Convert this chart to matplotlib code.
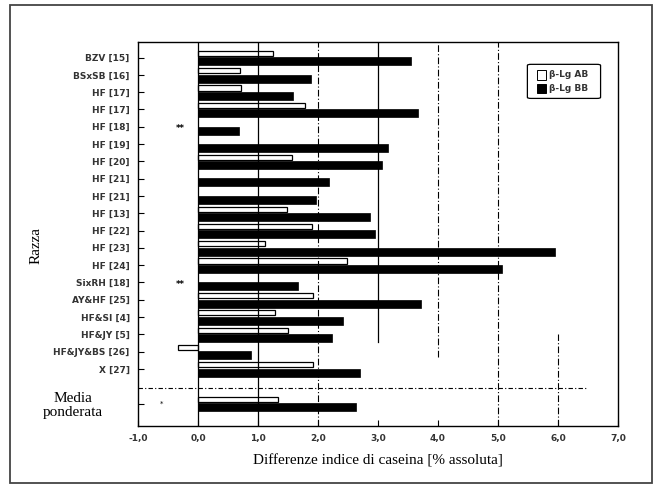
import numpy as np
import matplotlib
matplotlib.use('Agg')
import matplotlib.pyplot as plt
from matplotlib.patches import FancyBboxPatch, Rectangle

# ── Data ──────────────────────────────────────────────────────────────────────
razze = ['BZV [15]', 'BSxSB [16]', 'HF [17]', 'HF [17]', 'HF [18]', 'HF [19]',
         'HF [20]', 'HF [21]', 'HF [21]', 'HF [13]', 'HF [22]', 'HF [23]',
         'HF [24]', 'SixRH [18]', 'AY&HF [25]', 'HF&SI [4]', 'HF&JY [5]',
         'HF&JY&BS [26]', 'X [27]']
diff_ab = [1.25, 0.70, 0.72, 1.78, np.nan, np.nan, 1.57, np.nan, np.nan, 1.48,
           1.90, 1.12, 2.48, np.nan, 1.92, 1.28, 1.50, -0.33, 1.92]
diff_bb = [3.55, 1.88, 1.58, 3.67, 0.68, 3.17, 3.07, 2.18, 1.97, 2.87,
           2.95, 5.95, 5.07, 1.67, 3.72, 2.42, 2.23, 0.88, 2.70]
media_ab = 1.33
media_bb = 2.63
signif = {4: '**', 13: '**'}
xticks = [-1, 0, 1, 2, 3, 4, 5, 6, 7]
xtick_labels = ['-1,0', '0,0', '1,0', '2,0', '3,0', '4,0', '5,0', '6,0', '7,0']

serif = ['Liberation Serif', 'DejaVu Serif']
tick_kw = dict(fontsize=6.5, fontweight='bold', color='#333333')

fig = plt.figure(figsize=(6.62, 4.91), dpi=100)
fig.patches.append(Rectangle((0.015, 0.016), 0.970, 0.974, transform=fig.transFigure,
                             fill=False, edgecolor='#444444', lw=1.3))
ax = fig.add_axes([0.2085, 0.1324, 0.725, 0.782])

n = len(razze)
y = np.arange(n)
y_media = n + 1
ax.barh(y - 0.24, diff_ab, height=0.30, color='white', edgecolor='black', lw=0.9)
ax.barh(y + 0.22, diff_bb, height=0.46, color='black', edgecolor='black', lw=0.5)
ax.barh(y_media - 0.24, media_ab, height=0.30, color='white', edgecolor='black', lw=0.9)
ax.barh(y_media + 0.22, media_bb, height=0.46, color='black', edgecolor='black', lw=0.5)

for i, s in signif.items():
    ax.text(-0.3, i + 0.1, s, ha='center', va='center', fontsize=6, fontweight='bold')
ax.text(-0.6, y_media, '*', ha='center', va='center', fontsize=5)

# vertical reference lines (styles vary as in the scan)
ax.axvline(0, color='black', lw=0.9)
ax.axvline(1, color='black', lw=0.9)
ax.axvline(2, color='black', lw=0.8, ls=(0, (6, 2, 1, 2)))
ax.axvline(3, color='black', lw=0.9, ymin=0.22)
ax.axvline(4, color='black', lw=0.8, ls=(0, (6, 2, 1, 2)), ymin=0.18)
ax.axvline(5, color='black', lw=0.8, ls=(0, (6, 2, 1, 2)))
ax.axvline(6, color='black', lw=0.8, ls=(0, (6, 2, 1, 2)), ymax=0.24)
ax.hlines(n + 0.1, -1, 6.5, color='black', lw=0.8, ls=(0, (4, 2, 1, 2)))

ax.set_xlim(-1, 7)
ax.set_ylim(n + 2.3, -0.9)
ax.set_xticks(xticks)
ax.set_xticklabels(xtick_labels, **tick_kw)
ax.set_yticks(list(y) + [y_media])
ax.set_yticklabels(razze + [''], **tick_kw)
ax.tick_params(axis='both', direction='in', length=4, width=0.8, pad=6)
for sp in ax.spines.values():
    sp.set_linewidth(1.0)

ax.set_xlabel('Differenze indice di caseina [% assoluta]', family=serif,
              fontsize=11, labelpad=8)
fig.text(0.055, 0.5, 'Razza', rotation=90, family=serif, fontsize=11,
         ha='center', va='center')
fig.text(0.11, 0.175, 'Media\nponderata', family=serif, fontsize=11,
         ha='center', va='center', linespacing=1.1)

# legend box
ax.add_patch(FancyBboxPatch((5.55, 0.45), 1.1, 1.85, boxstyle='round,pad=0.06',
                            facecolor='white', edgecolor='black', lw=0.9, zorder=5))
ax.add_patch(Rectangle((5.65, 0.72), 0.15, 0.55, facecolor='white',
                       edgecolor='black', lw=0.7, zorder=6))
ax.add_patch(Rectangle((5.65, 1.52), 0.15, 0.55, facecolor='black',
                       edgecolor='black', lw=0.7, zorder=6))
ax.text(5.85, 1.0, 'β-Lg AB', fontsize=6.5, fontweight='bold', va='center',
        color='#333333', zorder=7)
ax.text(5.85, 1.8, 'β-Lg BB', fontsize=6.5, fontweight='bold', va='center',
        color='#333333', zorder=7)

fig.savefig('out.png', dpi=100)
